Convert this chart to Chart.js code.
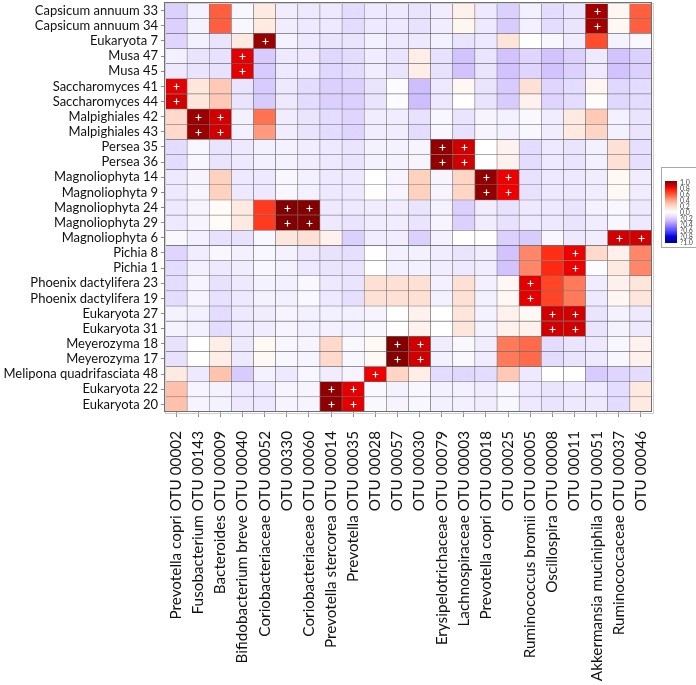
<!DOCTYPE html>
<html>
<head>
<meta charset="utf-8">
<script src="https://cdn.jsdelivr.net/npm/chart.js@4.4.1/dist/chart.umd.min.js"></script>
<style>
  html, body { margin: 0; padding: 0; background: #fff; }
</style>
</head>
<body>
<canvas id="heat" width="696" height="685"></canvas>
<script>
// rows (top to bottom) and columns (left to right) of the correlation map
const rowLabels = [
	"Capsicum annuum 33", "Capsicum annuum 34", "Eukaryota 7", "Musa 47", "Musa 45",
	"Saccharomyces 41", "Saccharomyces 44", "Malpighiales 42", "Malpighiales 43",
	"Persea 35", "Persea 36", "Magnoliophyta 14", "Magnoliophyta 9", "Magnoliophyta 24",
	"Magnoliophyta 29", "Magnoliophyta 6", "Pichia 8", "Pichia 1", "Phoenix dactylifera 23",
	"Phoenix dactylifera 19", "Eukaryota 27", "Eukaryota 31", "Meyerozyma 18", "Meyerozyma 17",
	"Melipona quadrifasciata 48", "Eukaryota 22", "Eukaryota 20"
];

const colLabels = [
	"Prevotella copri OTU 00002", "Fusobacterium OTU 00143", "Bacteroides OTU 00009",
	"Bifidobacterium breve OTU 00040", "Coriobacteriaceae OTU 00052", "OTU 00330",
	"Coriobacteriaceae OTU 00060", "Prevotella stercorea OTU 00014", "Prevotella OTU 00035",
	"OTU 00028", "OTU 00057", "OTU 00030", "Erysipelotrichaceae OTU 00079",
	"Lachnospiraceae OTU 00003", "Prevotella copri OTU 00018", "OTU 00025",
	"Ruminococcus bromii OTU 00005", "Oscillospira OTU 00008", "OTU 00011",
	"Akkermansia muciniphila OTU 00051", "Ruminococcaceae OTU 00037", "OTU 00046"
];

// correlation values, one line per row
const corr = [
	[-0.2, -0.06, 0.55, -0.04, 0.1, -0.08, -0.1, -0.1, -0.15, -0.1, -0.1, -0.12, -0.08, 0.07, -0.1, -0.2, -0.07, -0.15, -0.12, 0.93, 0.05, 0.55],
	[-0.2, -0.06, 0.55, -0.04, 0.1, -0.08, -0.1, -0.1, -0.15, -0.1, -0.1, -0.13, -0.08, 0.05, -0.1, -0.22, -0.07, -0.15, -0.12, 0.93, 0.04, 0.55],
	[-0.18, -0.07, -0.12, 0.1, 0.95, -0.06, -0.1, -0.12, -0.12, -0.07, -0.1, -0.1, -0.07, -0.12, -0.1, 0.13, 0.0, -0.04, -0.08, 0.6, -0.06, -0.03],
	[-0.07, -0.12, -0.13, 0.82, -0.22, -0.1, -0.1, -0.17, -0.15, -0.08, -0.12, 0.08, -0.13, -0.25, -0.12, -0.25, -0.18, -0.25, -0.2, -0.1, -0.25, -0.2],
	[-0.1, -0.12, -0.13, 0.82, -0.22, -0.1, -0.1, -0.17, -0.15, -0.08, -0.12, 0.08, -0.13, -0.25, -0.12, -0.25, -0.18, -0.25, -0.2, -0.1, -0.25, -0.2],
	[0.82, 0.12, 0.25, -0.12, -0.22, -0.1, -0.15, -0.2, -0.2, -0.12, -0.02, -0.27, -0.1, 0.04, -0.12, -0.22, 0.15, -0.18, -0.15, 0.05, -0.17, -0.15],
	[0.85, 0.12, 0.25, -0.12, -0.22, -0.1, -0.15, -0.2, -0.2, -0.12, -0.02, -0.27, -0.1, 0.0, -0.12, -0.22, 0.06, -0.18, -0.15, 0.01, -0.17, -0.15],
	[0.18, 0.95, 0.85, -0.07, 0.5, -0.08, -0.12, -0.15, -0.18, -0.08, -0.08, -0.13, -0.04, -0.12, -0.05, -0.07, -0.03, -0.08, 0.1, 0.25, -0.07, -0.12],
	[0.18, 0.95, 0.85, -0.07, 0.4, -0.08, -0.12, -0.15, -0.18, -0.08, -0.08, -0.15, -0.04, -0.13, -0.05, -0.07, -0.04, -0.08, 0.1, 0.2, -0.07, -0.12],
	[-0.15, -0.04, -0.12, -0.1, -0.07, -0.06, -0.08, -0.1, -0.12, -0.06, -0.06, -0.05, 0.97, 0.85, 0.0, 0.06, -0.15, -0.1, -0.12, -0.07, 0.15, -0.14],
	[-0.15, -0.04, -0.12, -0.1, -0.07, -0.06, -0.08, -0.1, -0.12, -0.06, -0.06, -0.05, 0.97, 0.85, 0.0, 0.06, -0.15, -0.1, -0.12, -0.07, 0.15, -0.14],
	[-0.1, -0.05, 0.22, -0.1, -0.1, -0.04, -0.07, -0.1, -0.1, 0.0, -0.05, 0.22, -0.05, 0.2, 0.97, 0.8, -0.13, -0.1, -0.1, -0.08, 0.03, -0.08],
	[-0.1, -0.05, 0.22, -0.1, -0.1, -0.04, -0.07, -0.1, -0.1, 0.0, -0.05, 0.22, -0.05, 0.2, 0.97, 0.8, -0.13, -0.1, -0.1, -0.08, 0.03, -0.08],
	[-0.1, -0.05, 0.02, 0.1, 0.65, 1.0, 1.0, -0.1, -0.1, -0.08, -0.08, -0.12, -0.06, -0.2, -0.08, -0.13, -0.1, -0.1, -0.12, -0.06, -0.04, -0.1],
	[-0.1, -0.05, 0.02, 0.1, 0.65, 1.0, 1.0, -0.1, -0.12, -0.08, -0.08, -0.12, -0.05, -0.2, -0.08, -0.13, -0.1, -0.1, -0.12, -0.08, -0.04, -0.1],
	[-0.03, -0.07, -0.13, -0.13, -0.04, 0.12, 0.15, 0.06, -0.2, -0.08, -0.08, -0.2, -0.06, 0.0, 0.0, -0.2, -0.22, -0.04, -0.1, -0.08, 0.85, 0.85],
	[-0.18, -0.08, -0.04, -0.07, -0.04, -0.06, -0.1, -0.13, -0.14, 0.0, -0.07, -0.07, -0.08, -0.12, -0.08, -0.25, 0.45, 0.68, 0.8, 0.18, 0.07, 0.45],
	[-0.15, -0.07, -0.1, -0.08, -0.04, -0.06, -0.1, -0.12, -0.12, 0.0, -0.07, -0.07, -0.08, -0.1, -0.08, -0.25, 0.45, 0.7, 0.8, -0.02, 0.1, 0.45],
	[-0.15, -0.05, -0.13, -0.1, -0.06, -0.07, -0.03, -0.1, -0.12, 0.15, 0.15, 0.15, -0.07, 0.15, -0.07, 0.04, 0.82, 0.62, 0.48, -0.08, 0.06, 0.12],
	[-0.15, -0.05, -0.13, -0.1, -0.06, -0.07, -0.03, -0.1, -0.14, 0.15, 0.15, 0.15, -0.07, 0.15, -0.07, 0.04, 0.82, 0.62, 0.48, -0.1, 0.04, 0.12],
	[-0.06, -0.07, -0.15, -0.1, -0.08, -0.05, -0.07, -0.07, -0.07, -0.05, 0.0, 0.06, 0.0, 0.12, -0.06, 0.06, 0.03, 0.85, 0.85, -0.12, -0.06, -0.1],
	[-0.06, -0.07, -0.15, -0.1, -0.08, -0.05, -0.07, -0.07, -0.07, -0.03, 0.0, 0.06, 0.0, 0.12, -0.06, 0.06, 0.06, 0.85, 0.85, -0.12, -0.06, -0.1],
	[-0.13, 0.0, 0.08, -0.1, 0.03, -0.04, -0.05, 0.18, -0.03, 0.03, 1.0, 0.85, -0.08, -0.03, -0.08, 0.48, 0.52, -0.15, -0.12, -0.1, -0.04, 0.06],
	[-0.13, 0.0, 0.08, -0.1, 0.03, -0.04, -0.05, 0.18, -0.04, 0.03, 1.0, 0.85, -0.07, -0.03, -0.08, 0.48, 0.52, -0.15, -0.12, -0.1, -0.04, 0.06],
	[0.1, -0.1, 0.27, -0.22, -0.06, -0.1, -0.04, -0.08, -0.05, 0.8, 0.2, 0.08, -0.15, -0.17, -0.15, 0.25, -0.1, 0.0, 0.0, -0.22, -0.18, -0.15],
	[0.28, -0.05, -0.06, -0.1, -0.1, -0.05, -0.05, 0.97, 0.82, -0.03, -0.06, -0.04, -0.07, -0.07, -0.08, -0.04, -0.1, -0.12, -0.1, -0.1, -0.15, 0.1],
	[0.28, -0.05, -0.06, -0.1, -0.1, -0.05, -0.05, 0.97, 0.82, -0.03, -0.05, -0.04, -0.07, -0.07, -0.08, -0.04, -0.1, -0.12, -0.1, -0.1, -0.15, 0.1]
];

// cells flagged with a "+" : [row, col]
const plusCells = [
	[0, 19], [1, 19], [2, 4], [3, 3], [4, 3], [5, 0], [6, 0], [7, 1], [7, 2], [8, 1], [8, 2],
	[9, 12], [9, 13], [10, 12], [10, 13], [11, 14], [11, 15], [12, 14], [12, 15],
	[13, 5], [13, 6], [14, 5], [14, 6], [15, 20], [15, 21], [16, 18], [17, 18],
	[18, 16], [19, 16], [20, 17], [20, 18], [21, 17], [21, 18], [22, 10], [22, 11],
	[23, 10], [23, 11], [24, 9], [25, 7], [25, 8], [26, 7], [26, 8]
];

// colour bar labels, as printed
const scaleLabels = ["1.0", "0.8", "0.6", "0.4", "0.2", "0.0", "?0.2", "?0.4", "?0.6", "?0.8", "?1.0"];

// blue - white - red colour ramp
const stops = [
	[-1.0, [0, 0, 128]], [-0.8, [0, 0, 224]], [-0.6, [80, 80, 255]], [-0.4, [165, 140, 255]],
	[-0.3, [200, 182, 255]], [-0.2, [220, 208, 255]], [-0.1, [238, 233, 255]], [0.0, [255, 255, 255]],
	[0.1, [255, 234, 226]], [0.2, [255, 214, 198]], [0.3, [255, 188, 164]], [0.4, [255, 154, 126]],
	[0.5, [255, 114, 82]], [0.6, [255, 76, 44]], [0.7, [255, 40, 16]], [0.8, [238, 0, 0]],
	[0.85, [208, 0, 0]], [0.9, [176, 0, 0]], [1.0, [130, 0, 0]]
];

function heatColor(v) {
	v = Math.max(-1, Math.min(1, v));
	for (let i = 1; i < stops.length; i++) {
		if (v <= stops[i][0]) {
			const [a, ca] = stops[i - 1];
			const [b, cb] = stops[i];
			const t = (v - a) / (b - a);
			const c = ca.map((x, k) => Math.round(x + (cb[k] - x) * t));
			return `rgb(${c[0]},${c[1]},${c[2]})`;
		}
	}
	return "rgb(130,0,0)";
}

const font = "Lato";

// each row is one stacked dataset; every cell is one unit tall
const datasets = rowLabels.map((name, r) => ({
	label: name,
	data: colLabels.map(() => 1),
	backgroundColor: corr[r].map(heatColor),
	borderColor: "rgba(85,85,85,0.75)",
	borderWidth: 0.6,
	borderSkipped: false,
	barPercentage: 1,
	categoryPercentage: 1
}));

const overlay = {
	id: "overlay",
	afterDatasetsDraw(chart) {
		const ctx = chart.ctx;
		const a = chart.chartArea;
		ctx.save();
		// plus signs
		ctx.strokeStyle = "#fff";
		ctx.lineWidth = 1.2;
		plusCells.forEach(([r, c]) => {
			const bar = chart.getDatasetMeta(r).data[c];
			const x = Math.round(bar.x) + 0.5;
			const y = Math.round((bar.y + bar.base) / 2) + 0.5;
			ctx.beginPath();
			ctx.moveTo(x - 3, y); ctx.lineTo(x + 3, y);
			ctx.moveTo(x, y - 3); ctx.lineTo(x, y + 3);
			ctx.stroke();
		});
		// frame round the plot
		ctx.lineWidth = 1;
		ctx.strokeStyle = "#cfcfcf";
		ctx.strokeRect(a.left + 0.5, a.top + 0.5, a.width + 1, a.height + 1);
		ctx.strokeStyle = "#707070";
		ctx.strokeRect(a.left - 0.5, a.top - 0.5, a.width, a.height);
		ctx.restore();
	},
	afterDraw(chart) {
		// colour bar legend
		const ctx = chart.ctx;
		ctx.save();
		ctx.fillStyle = "#fff";
		ctx.fillRect(661, 167, 40, 80);
		ctx.strokeStyle = "#a9a9a9";
		ctx.strokeRect(661.5, 167.5, 40, 80);
		const top = 181, h = 62;
		for (let i = 0; i < h; i++) {
			ctx.fillStyle = heatColor(1 - 2 * (i + 0.5) / h);
			ctx.fillRect(665, top + i, 12, 1);
		}
		ctx.fillStyle = "#444";
		ctx.font = `7px ${font}`;
		ctx.textBaseline = "middle";
		scaleLabels.forEach((t, i) => ctx.fillText(t, 680, 183 + i * 6));
		ctx.restore();
	}
};

new Chart(document.getElementById("heat"), {
	type: "bar",
	data: { labels: colLabels, datasets: datasets },
	plugins: [overlay],
	options: {
		responsive: false,
		animation: false,
		layout: { padding: { top: 3, right: 44, left: 0, bottom: 0 } },
		plugins: { legend: { display: false }, tooltip: { enabled: false } },
		scales: {
			x: {
				type: "category",
				stacked: true,
				border: { display: false },
				grid: { drawOnChartArea: false, offset: false, tickLength: 5, color: "#8a8a8a" },
				ticks: {
					autoSkip: false, minRotation: 90, maxRotation: 90, padding: 14,
					color: "#111", font: { family: font, size: 15.3 }
				},
				afterFit: (s) => { s.height = 273; s.paddingLeft = 0; s.paddingRight = 0; }
			},
			y: {
				type: "linear",
				stacked: true,
				reverse: true,
				min: 0,
				max: rowLabels.length,
				border: { display: false },
				grid: { drawOnChartArea: false, tickLength: 4, color: "#8a8a8a" },
				afterBuildTicks: (s) => { s.ticks = rowLabels.map((_, i) => ({ value: i + 0.5 })); },
				ticks: {
					autoSkip: false, padding: 3, color: "#111",
					font: { family: font, size: 13 },
					callback: (v, i) => rowLabels[i]
				},
				afterFit: (s) => { s.width = 165; s.paddingTop = 0; s.paddingBottom = 0; }
			}
		}
	}
});
</script>
</body>
</html>
